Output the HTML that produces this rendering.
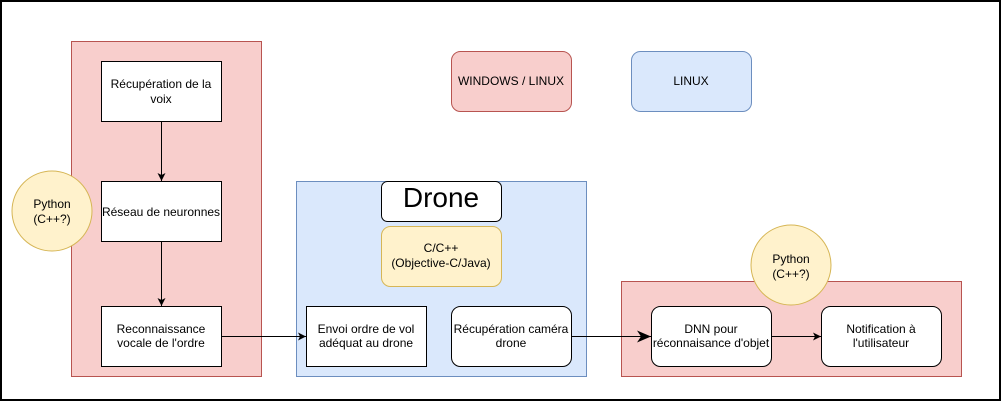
<!DOCTYPE html>
<html><head><meta charset="utf-8"><style>
html,body{margin:0;padding:0;background:#fff}
svg{display:block}
text{font-family:"Liberation Sans",sans-serif;font-size:12px;fill:#000;text-anchor:middle}
</style></head><body>
<svg width="1002" height="402" viewBox="0 0 1002 402" xmlns="http://www.w3.org/2000/svg">
<defs>
<marker id="a" markerWidth="10" markerHeight="10" refX="9" refY="5" orient="auto" markerUnits="userSpaceOnUse"><path d="M1,1 L9,5 L1,9 L3,5 Z" fill="#000"/></marker>
<marker id="b" markerWidth="16" markerHeight="14" refX="15" refY="7" orient="auto" markerUnits="userSpaceOnUse"><path d="M1,1 L15,7 L1,13 L5,7 Z" fill="#000"/></marker>
</defs>
<rect x="1" y="1" width="999" height="399" fill="#fff" stroke="#000" stroke-width="2"/>
<rect x="71.5" y="41.5" width="190" height="335" fill="#f8cecc" stroke="#b85450"/>
<rect x="296.5" y="181.5" width="290" height="195" fill="#dae8fc" stroke="#6c8ebf"/>
<rect x="621.5" y="281.5" width="340" height="95" fill="#f8cecc" stroke="#b85450"/>
<rect x="451.5" y="51.5" width="120" height="60" rx="9" fill="#f8cecc" stroke="#b85450"/>
<text x="511" y="85">WINDOWS / LINUX</text>
<rect x="631.5" y="51.5" width="120" height="60" rx="9" fill="#dae8fc" stroke="#6c8ebf"/>
<text x="691" y="85">LINUX</text>
<circle cx="52" cy="211" r="40" fill="#fff2cc" stroke="#d6b656"/>
<text x="52" y="208">Python</text><text x="52" y="223">(C++?)</text>
<rect x="101.5" y="61.5" width="120" height="60" fill="#fff" stroke="#000"/>
<text x="161" y="88">Récupération de la</text><text x="161" y="103">voix</text>
<rect x="101.5" y="181.5" width="120" height="60" fill="#fff" stroke="#000"/>
<text x="161" y="216">Réseau de neuronnes</text>
<rect x="101.5" y="306.5" width="120" height="60" fill="#fff" stroke="#000"/>
<text x="161" y="333">Reconnaissance</text><text x="161" y="347">vocale de l'ordre</text>
<rect x="381.5" y="181.5" width="120" height="40" rx="6" fill="#fff" stroke="#000"/>
<text x="441" y="207" style="font-size:28px">Drone</text>
<rect x="381.5" y="226.5" width="120" height="60" rx="9" fill="#fff2cc" stroke="#d6b656"/>
<text x="441" y="252">C/C++</text><text x="441" y="267">(Objective-C/Java)</text>
<rect x="306.5" y="306.5" width="120" height="60" fill="#fff" stroke="#000"/>
<text x="366" y="333">Envoi ordre de vol</text><text x="366" y="347">adéquat au drone</text>
<rect x="451.5" y="306.5" width="120" height="60" rx="9" fill="#fff" stroke="#000"/>
<text x="511" y="333">Récupération caméra</text><text x="511" y="347">drone</text>
<circle cx="791" cy="265" r="40" fill="#fff2cc" stroke="#d6b656"/>
<text x="791" y="263">Python</text><text x="791" y="278">(C++?)</text>
<rect x="651.5" y="306.5" width="120" height="60" rx="9" fill="#fff" stroke="#000"/>
<text x="711" y="333">DNN pour</text><text x="711" y="347">réconnaisance d'objet</text>
<rect x="821.5" y="306.5" width="120" height="60" rx="9" fill="#fff" stroke="#000"/>
<text x="881" y="333">Notification à</text><text x="881" y="347">l'utilisateur</text>
<g stroke="#000" stroke-width="1" fill="none">
<line x1="161.5" y1="122" x2="161.5" y2="181" marker-end="url(#a)"/>
<line x1="161.5" y1="242" x2="161.5" y2="306" marker-end="url(#a)"/>
<line x1="222" y1="336.5" x2="306" y2="336.5" marker-end="url(#a)"/>
<line x1="572" y1="336.5" x2="651" y2="336.5" marker-end="url(#b)"/>
<line x1="772" y1="336.5" x2="821" y2="336.5" marker-end="url(#a)"/>
</g>
</svg>
</body></html>
